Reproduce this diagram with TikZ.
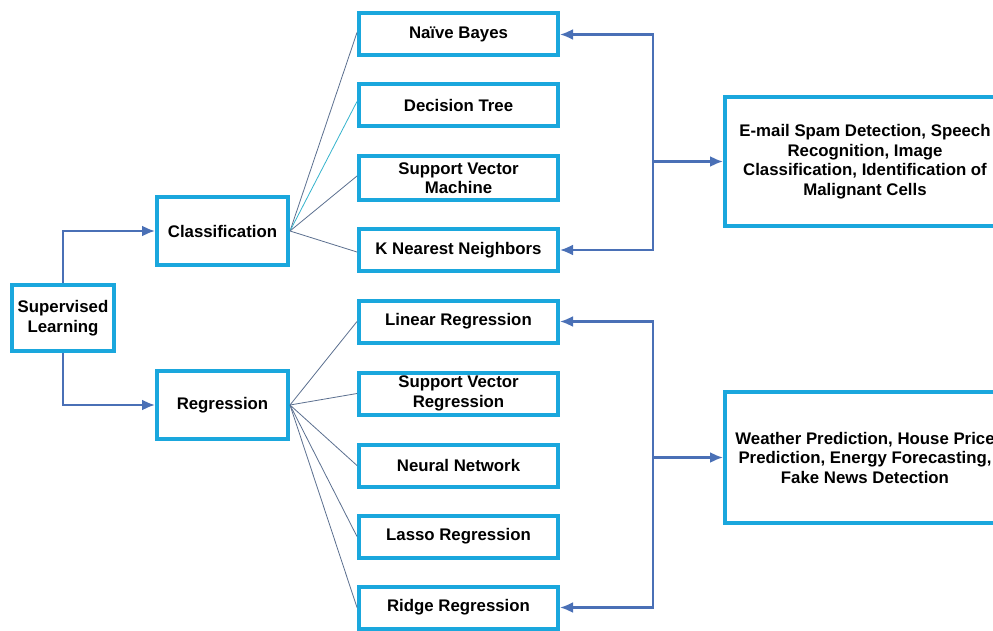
\documentclass[tikz,border=0pt]{standalone}
\usepackage{fontspec}
\setmainfont{Liberation Sans}
\usetikzlibrary{arrows.meta}
\definecolor{boxcyan}{HTML}{1AA7DD}
\definecolor{arrblue}{HTML}{4A70B6}
\definecolor{linkgray}{HTML}{5B6F8F}
\definecolor{linkteal}{HTML}{35B3CC}
\tikzset{
  box/.style={draw=boxcyan, line width=4pt, fill=white, rectangle, inner sep=0pt,
    align=center, font=\fontsize{16.8}{19.5}\selectfont\bfseries},
  algo/.style={box, minimum width=199pt, minimum height=42pt},
  arr/.style={draw=arrblue, line width=2.2pt, -{Latex[length=13pt,width=11pt]}},
  link/.style={draw=linkgray, line width=0.8pt},
}
\begin{document}
\begin{tikzpicture}[x=1pt,y=-1pt]
\useasboundingbox (0,0) rectangle (993,631);
\clip (0,0) rectangle (993,631);

% root and the two branches
\node[box, minimum width=102pt, minimum height=66pt] (sl) at (63,318) {Supervised\\Learning};
\node[box, minimum width=131pt, minimum height=68pt] (cls) at (222.5,231) {Classification};
\node[box, minimum width=131pt, minimum height=68pt] (reg) at (222.5,405) {Regression};

% classification algorithms
\node[algo] (nb)  at (458.5,34.5) {Naïve Bayes};
\node[algo] (dt)  at (458.5,105.5) {Decision Tree};
\node[algo, minimum height=44pt] (svm) at (458.5,178) {Support Vector\\Machine};
\node[algo] (knn) at (458.5,250) {K Nearest Neighbors};

% regression algorithms
\node[algo] (lin)   at (458.5,321.5) {Linear Regression};
\node[algo] (svr)   at (458.5,393.5) {Support Vector\\Regression};
\node[algo] (nn)    at (458.5,465.5) {Neural Network};
\node[algo] (lasso) at (458.5,536.5) {Lasso Regression};
\node[algo] (ridge) at (458.5,607.5) {Ridge Regression};

% application boxes
\node[box, minimum width=280pt, minimum height=129pt] (app1) at (865,161.5)
  {\rule{0pt}{8pt}E-mail Spam Detection, Speech\\Recognition, Image\\Classification, Identification of\\Malignant Cells};
\node[box, minimum width=280pt, minimum height=131pt] (app2) at (865,457.5)
  {Weather Prediction, House Price\\Prediction, Energy Forecasting,\\Fake News Detection};

% root to branches
\draw[arr] (sl.north) |- (cls.west);
\draw[arr] (sl.south) |- (reg.west);

% fan-out links
\draw[link] (cls.east) -- ([yshift=2pt]nb.west);
\draw[link, draw=linkteal] (cls.east) -- ([yshift=4pt]dt.west);
\draw[link] (cls.east) -- ([yshift=2pt]svm.west);
\draw[link] (cls.east) -- ([yshift=-2pt]knn.west);
\foreach \t in {lin,svr,nn,lasso,ridge}
  \draw[link] (reg.east) -- (\t.west);

% application brackets
\coordinate (cj) at (653,161.5);
\coordinate (rj) at (653,457.5);
\draw[arr] (cj) |- (nb.east);
\draw[arr] (cj) |- (knn.east);
\draw[arr] (cj) -- (app1.west);
\draw[arr] (rj) |- (lin.east);
\draw[arr] (rj) |- (ridge.east);
\draw[arr] (rj) -- (app2.west);
\end{tikzpicture}
\end{document}
